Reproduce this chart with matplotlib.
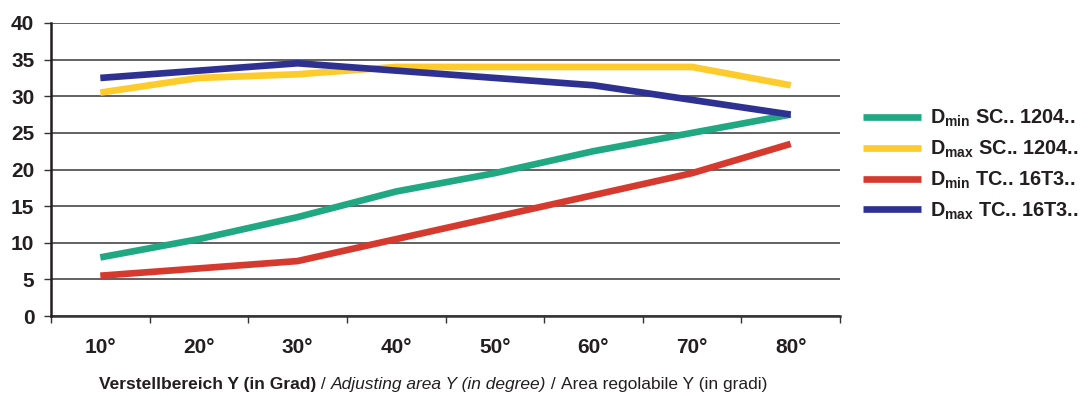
import matplotlib
matplotlib.use("Agg")
import matplotlib.pyplot as plt
from matplotlib import font_manager as fm

categories = ["10°", "20°", "30°", "40°", "50°", "60°", "70°", "80°"]
dmin_sc = [8, 10.5, 13.5, 17, 19.5, 22.5, 25, 27.5]
dmax_sc = [30.5, 32.5, 33, 34, 34, 34, 34, 31.5]
dmin_tc = [5.5, 6.5, 7.5, 10.5, 13.5, 16.5, 19.5, 23.5]
dmax_tc = [32.5, 33.5, 34.5, 33.5, 32.5, 31.5, 29.5, 27.5]
labels = [r"D$_{\mathbf{min}}$ SC.. 1204..", r"D$_{\mathbf{max}}$ SC.. 1204..",
          r"D$_{\mathbf{min}}$ TC.. 16T3..", r"D$_{\mathbf{max}}$ TC.. 16T3.."]
colors = ["#1fa882", "#fdcb2b", "#d63a2e", "#2e3192"]
yticks = [0, 5, 10, 15, 20, 25, 30, 35, 40]

names = {f.name for f in fm.fontManager.ttflist}
narrow = "Liberation Sans Narrow" if "Liberation Sans Narrow" in names else "Liberation Sans"

plt.rcParams["font.family"] = ["Liberation Sans", "DejaVu Sans"]
plt.rcParams["mathtext.fontset"] = "custom"
plt.rcParams["mathtext.rm"] = "Liberation Sans"
plt.rcParams["mathtext.bf"] = "Liberation Sans:bold"
plt.rcParams["mathtext.it"] = "Liberation Sans:italic"

fig = plt.figure(figsize=(10.89, 3.96), dpi=100)
ax = fig.add_axes([51/1089, 1-316/396, (840-51)/1089, (316-23)/396])

x = list(range(len(categories)))
for series, c, lab in zip([dmin_sc, dmax_sc, dmin_tc, dmax_tc], colors, labels):
    ax.plot(x, series, color=c, lw=4.8, label=lab, solid_capstyle="butt", zorder=3)

ax.set_xlim(-0.5, len(categories) - 0.5)
ax.set_ylim(0, 40)
ax.set_yticks(yticks)
ax.set_yticklabels([str(v) for v in yticks], fontsize=15, fontweight="bold", color="#231f20")
ax.set_xticks(x)
ax.set_xticklabels(categories, fontsize=15, fontweight="bold", color="#231f20")
ax.set_xticks([i - 0.5 for i in range(len(categories) + 1)], minor=True)
ax.tick_params(axis="x", which="major", length=0, pad=16)
ax.tick_params(axis="x", which="minor", length=5, width=1.0, color="#333333", direction="out")
ax.tick_params(axis="y", length=5, width=1.0, color="#333333", pad=7)
ax.grid(axis="y", color="#555555", lw=1.3, zorder=1)
for s in ["top", "right"]:
    ax.spines[s].set_visible(False)
ax.spines["left"].set_linewidth(1.8)
ax.spines["left"].set_color("#231f20")
ax.spines["bottom"].set_linewidth(1.8)
ax.spines["bottom"].set_color("#333333")
ax.spines["left"].set_zorder(4)

leg = fig.legend(loc="upper left", bbox_to_anchor=(855/1089, 1-100/396), frameon=False,
                 prop={"weight": "bold", "size": 14.3}, handlelength=2.9,
                 handletextpad=0.5, labelspacing=0.48, borderaxespad=0)
for t in leg.get_texts():
    t.set_color("#231f20")

# x-axis caption made of pieces with different styles
pieces = [("Verstellbereich Y (in Grad)", "bold", "normal"),
          (" / ", "normal", "normal"),
          ("Adjusting area Y (in degree)", "normal", "italic"),
          (" / ", "normal", "normal"),
          ("Area regolabile Y (in gradi)", "normal", "normal")]
fig.canvas.draw()
renderer = fig.canvas.get_renderer()
texts = []
for s, w, st in pieces:
    t = fig.text(0, 7/396, s, fontsize=12.5, fontweight=w, style=st,
                 family=[narrow, "DejaVu Sans"], color="#231f20", va="baseline")
    texts.append(t)
widths = [t.get_window_extent(renderer).width for t in texts]
total = sum(widths)
start = 433 - total / 2
for t, w in zip(texts, widths):
    t.set_x(start / 1089)
    start += w

fig.savefig("out.png", dpi=100)
